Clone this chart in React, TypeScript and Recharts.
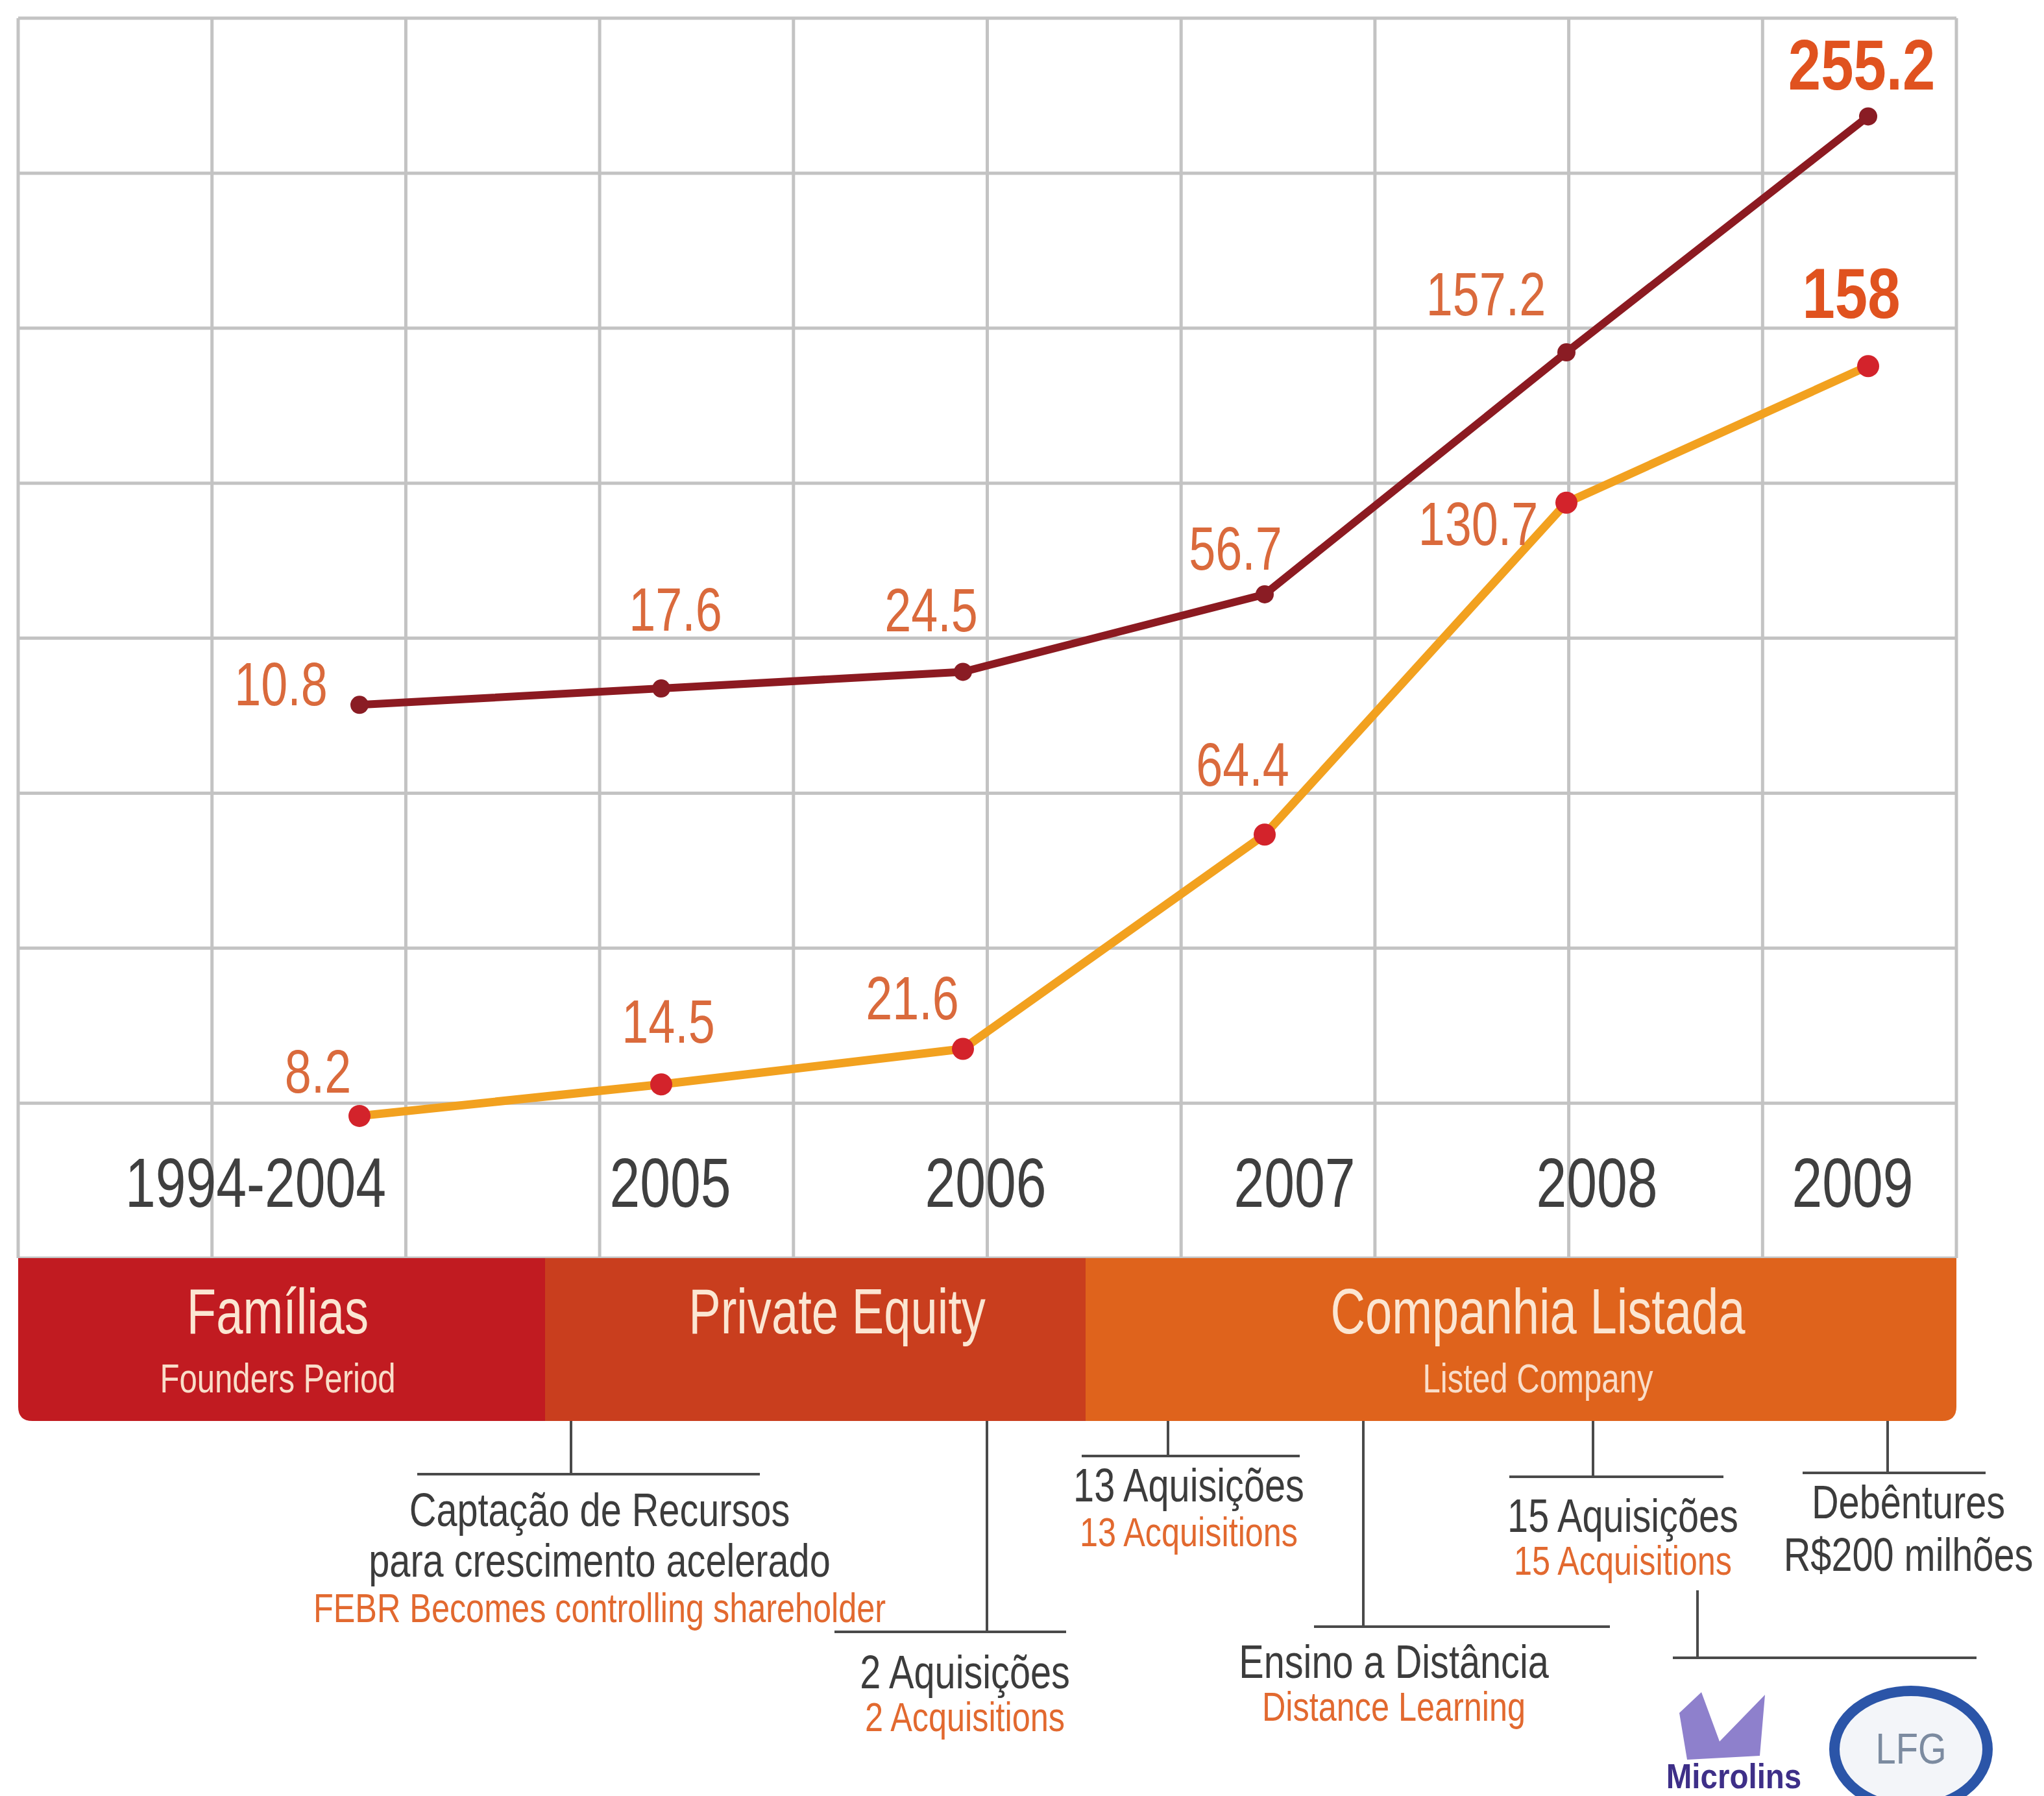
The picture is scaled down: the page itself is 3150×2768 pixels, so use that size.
import React from "react";
import { LineChart, Line, XAxis, YAxis, CartesianGrid, LabelList } from "recharts";

// values as printed on the picture
const periods = ["1994-2004", "2005", "2006", "2007", "2008", "2009"];
const upperValues = [10.8, 17.6, 24.5, 56.7, 157.2, 255.2];
const lowerValues = [8.2, 14.5, 21.6, 64.4, 130.7, 158];

// the background grid is 10 columns x 8 rows
const gridColumnTicks = [0, 1, 2, 3, 4, 5, 6, 7, 8, 9, 10];
const gridRowTicks = [0, 1, 2, 3, 4, 5, 6, 7, 8];

const phaseTitles = ["Famílias", "Private Equity", "Companhia Listada"];
const phaseSubtitles = ["Founders Period", "", "Listed Company"];

const milestonesPt = [
  ["Captação de Recursos", "para crescimento acelerado"],
  ["2 Aquisições"],
  ["13 Aquisições"],
  ["Ensino a Distância"],
  ["15 Aquisições"],
  ["Debêntures", "R$200 milhões"],
];
const milestonesEn = [
  "FEBR Becomes controlling shareholder",
  "2 Acquisitions",
  "13 Acquisitions",
  "Distance Learning",
  "15 Acquisitions",
  "",
];

const data = periods.map((period, i) => ({
  period,
  upper: upperValues[i],
  lower: lowerValues[i],
}));

// layout
const W = 3150;
const H = 2768;
const PLOT = { left: 28, right: 3015, top: 28, bottom: 1939 };
const BAND_BOTTOM = 2190;
// the original uses a condensed grotesque, so Liberation Sans gets squeezed horizontally
const FONT = "'Liberation Sans', Arial, sans-serif";

const phaseEdges = [28, 840, 1673, 3015];
const phaseColors = ["#C11B21", "#C93E1E", "#DF631C"];
const phaseCenters = [428, 1290, 2370];

const tickNudge = [-160, 14, 35, 46, 47, -24];
const upperLabelNudge = [[-121, 1], [22, -89], [-49, -62], [-45, -38], [-124, -57], [-10, -41]];
const lowerLabelNudge = [[-64, -36], [11, -64], [-78, -46], [-34, -75], [-136, 65], [-26, -74]];

const milestoneLayout = [
  { stemX: 880, stemTo: 2272, barFrom: 643, barTo: 1171, textX: 924, rows: [2352, 2430, 2500] },
  { stemX: 1521, stemTo: 2515, barFrom: 1286, barTo: 1643, textX: 1487, rows: [2602, 2668] },
  { stemX: 1800, stemTo: 2244, barFrom: 1667, barTo: 2003, textX: 1832, rows: [2314, 2383] },
  { stemX: 2101, stemTo: 2507, barFrom: 2025, barTo: 2481, textX: 2148, rows: [2586, 2652] },
  { stemX: 2455, stemTo: 2276, barFrom: 2326, barTo: 2656, textX: 2501, rows: [2361, 2427] },
  { stemX: 2909, stemTo: 2270, barFrom: 2778, barTo: 3060, textX: 2941, rows: [2340, 2421] },
];

type TxtProps = {
  x: number;
  y: number;
  size: number;
  fill: string;
  sx?: number;
  weight?: number;
  children: React.ReactNode;
};

const Txt = ({ x, y, size, fill, sx = 0.78, weight = 400, children }: TxtProps) => (
  <text
    transform={`translate(${x},${y}) scale(${sx},1)`}
    textAnchor="middle"
    fontFamily={FONT}
    fontSize={size}
    fontWeight={weight}
    fill={fill}
  >
    {children}
  </text>
);

const PeriodTick = (props: any) => {
  const { x, y, payload, index } = props;
  return (
    <Txt x={x + tickNudge[index]} y={y - 79} size={107} sx={0.786} fill="#3f3f3f">
      {payload.value}
    </Txt>
  );
};

const valueLabel = (nudge: number[][]) => (props: any) => {
  const { x, y, value, index } = props;
  const last = index === periods.length - 1;
  const [dx, dy] = nudge[index];
  return (
    <Txt
      x={x + dx}
      y={y + dy}
      size={last ? 109 : 94}
      sx={last ? 0.83 : 0.785}
      weight={last ? 700 : 400}
      fill={last ? "#E0521F" : "#DA6A3C"}
    >
      {value}
    </Txt>
  );
};

// every column line of the grid axis (the default generator thins them out)
const gridVerticals = ({ xAxis, offset }: any) =>
  gridColumnTicks.map((t) => {
    const v = xAxis && typeof xAxis.scale === "function" ? xAxis.scale(t) : NaN;
    return Number.isFinite(v) ? v : offset.left + (t / 10) * offset.width;
  });

const PhaseBand = () => (
  <svg width={W} height={H} style={{ position: "absolute", left: 0, top: 0 }}>
    <defs>
      <clipPath id="bandClip">
        <path
          d={`M${PLOT.left},${PLOT.bottom} H${PLOT.right} V${BAND_BOTTOM - 22} Q${PLOT.right},${BAND_BOTTOM} ${PLOT.right - 22},${BAND_BOTTOM} H${PLOT.left + 22} Q${PLOT.left},${BAND_BOTTOM} ${PLOT.left},${BAND_BOTTOM - 22} Z`}
        />
      </clipPath>
    </defs>
    <g clipPath="url(#bandClip)">
      {phaseTitles.map((t, i) => (
        <rect
          key={t}
          x={phaseEdges[i]}
          y={PLOT.bottom}
          width={phaseEdges[i + 1] - phaseEdges[i]}
          height={BAND_BOTTOM - PLOT.bottom}
          fill={phaseColors[i]}
        />
      ))}
    </g>
    {phaseTitles.map((t, i) => (
      <g key={t}>
        <Txt x={phaseCenters[i]} y={2055} size={98} sx={0.757} fill="#FBE6D2">
          {t}
        </Txt>
        {phaseSubtitles[i] && (
          <Txt x={phaseCenters[i]} y={2146} size={63} sx={0.78} fill="#F9DDC9">
            {phaseSubtitles[i]}
          </Txt>
        )}
      </g>
    ))}

    {milestoneLayout.map((m, i) => (
      <g key={i}>
        <line x1={m.stemX} y1={BAND_BOTTOM} x2={m.stemX} y2={m.stemTo} stroke="#4a4a4a" strokeWidth={4} />
        <line x1={m.barFrom} y1={m.stemTo} x2={m.barTo} y2={m.stemTo} stroke="#4a4a4a" strokeWidth={4} />
        {milestonesPt[i].map((line, j) => (
          <Txt key={line} x={m.textX} y={m.rows[j]} size={73} sx={0.79} fill="#3c3c3c">
            {line}
          </Txt>
        ))}
        {milestonesEn[i] && (
          <Txt x={m.textX} y={m.rows[milestonesPt[i].length]} size={63} sx={0.8} fill="#E2692F">
            {milestonesEn[i]}
          </Txt>
        )}
      </g>
    ))}

    {/* second branch under 15 Aquisições, pointing to the acquired brands */}
    <line x1={2616} y1={2451} x2={2616} y2={2555} stroke="#4a4a4a" strokeWidth={4} />
    <line x1={2578} y1={2555} x2={3046} y2={2555} stroke="#4a4a4a" strokeWidth={4} />
    <path d="M2600,2712 L2588,2640 L2622,2608 L2650,2684 L2720,2612 L2712,2706 Z" fill="#8E80CC" />
    <Txt x={2672} y={2756} size={54} sx={0.88} weight={700} fill="#3E2F88">
      Microlins
    </Txt>
    <ellipse cx={2945} cy={2696} rx={118} ry={90} fill="#F3F5F9" stroke="#2B55A8" strokeWidth={16} />
    <Txt x={2945} y={2718} size={66} sx={0.85} fill="#7C8BA0">
      LFG
    </Txt>
  </svg>
);

export default function App() {
  return (
    <div style={{ position: "absolute", left: 0, top: 0, width: W, height: H, background: "#fff" }}>
      <LineChart
        width={W}
        height={H}
        data={data}
        margin={{ top: PLOT.top, left: PLOT.left, right: W - PLOT.right, bottom: H - PLOT.bottom - 1 }}
      >
        <XAxis
          xAxisId="grid"
          type="number"
          domain={[0, 10]}
          ticks={gridColumnTicks}
          tickCount={11}
          interval={0}
          allowDataOverflow
          hide
        />
        <YAxis
          yAxisId="grid"
          type="number"
          domain={[0, 8]}
          ticks={gridRowTicks}
          tickCount={9}
          interval={0}
          allowDataOverflow
          hide
        />
        <CartesianGrid
          xAxisId="grid"
          yAxisId="grid"
          stroke="#c3c3c3"
          strokeWidth={5}
          verticalCoordinatesGenerator={gridVerticals}
        />
        <XAxis
          dataKey="period"
          height={1}
          axisLine={false}
          tickLine={false}
          tickSize={0}
          tickMargin={0}
          interval={0}
          padding={{ left: 526, right: 136 }}
          tick={<PeriodTick />}
        />
        <YAxis yAxisId="upper" type="number" domain={[-219, 296]} allowDataOverflow hide />
        <YAxis yAxisId="lower" type="number" domain={[-20.2, 227.5]} allowDataOverflow hide />
        <Line
          yAxisId="upper"
          dataKey="upper"
          stroke="#8C1A21"
          strokeWidth={12}
          dot={{ r: 14, fill: "#8A1C24", stroke: "none" }}
          isAnimationActive={false}
        >
          <LabelList dataKey="upper" content={valueLabel(upperLabelNudge)} />
        </Line>
        <Line
          yAxisId="lower"
          dataKey="lower"
          stroke="#F2A11F"
          strokeWidth={13}
          dot={{ r: 17, fill: "#D3232B", stroke: "none" }}
          isAnimationActive={false}
        >
          <LabelList dataKey="lower" content={valueLabel(lowerLabelNudge)} />
        </Line>
      </LineChart>
      <PhaseBand />
    </div>
  );
}
